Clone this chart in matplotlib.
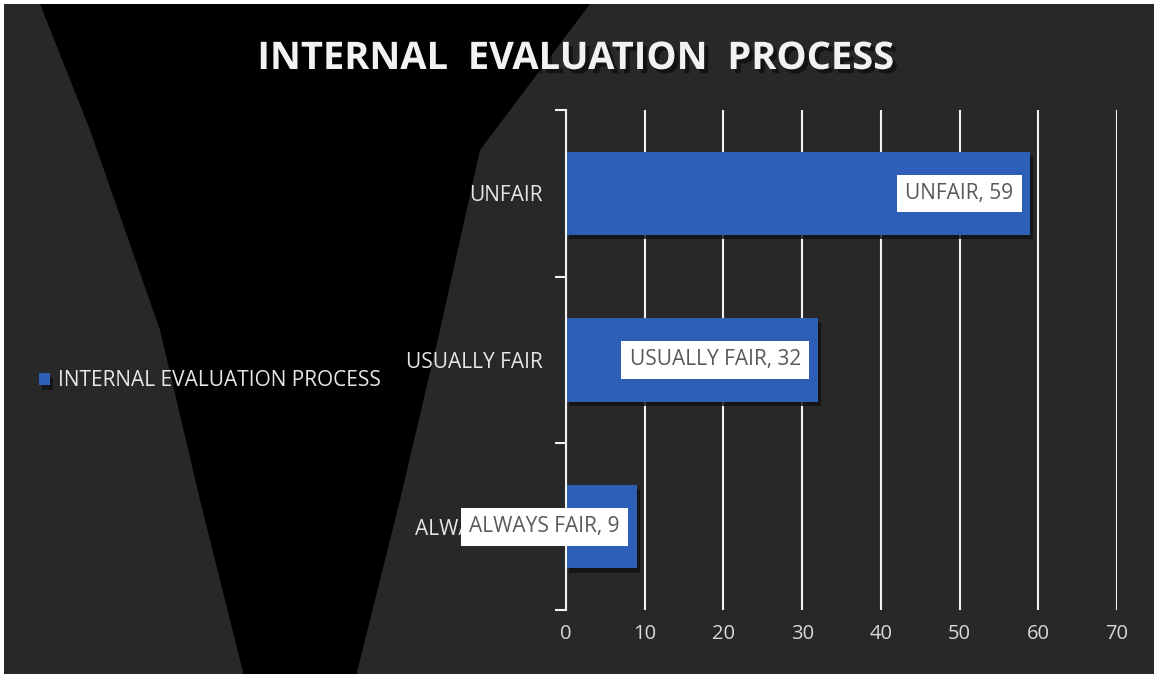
import matplotlib
matplotlib.use("Agg")
import matplotlib.pyplot as plt
import matplotlib.patheffects as pe
from matplotlib.patches import Rectangle, Polygon

plt.rcParams["font.family"] = ["Open Sans", "DejaVu Sans"]

categories = ["ALWAYS FAIR", "USUALLY FAIR", "UNFAIR"]
values = [9, 32, 59]
series_name = "INTERNAL EVALUATION PROCESS"
title = "INTERNAL  EVALUATION  PROCESS"
xticks = [0, 10, 20, 30, 40, 50, 60, 70]

W, H = 1154, 674
fig = plt.figure(figsize=(W / 100, H / 100), dpi=100)
fig.patch.set_facecolor("white")

# dark backdrop with the black "V" shape behind the chart
fig.add_artist(Rectangle((4 / W, -0.02), 1.1, (H - 4) / H + 0.02, transform=fig.transFigure,
                         facecolor="#282828", edgecolor="none", zorder=-10))
vshape = [(40, 4), (90, 130), (160, 330), (200, 500), (245, 680), (355, 680),
          (400, 500), (440, 330), (480, 150), (590, 4)]
fig.add_artist(Polygon([(x / W, 1 - y / H) for x, y in vshape], closed=True,
                       transform=fig.transFigure, facecolor="#000000",
                       edgecolor="none", zorder=-9))

ax = fig.add_axes([566 / W, 64 / H, 551 / W, 500 / H])
ax.patch.set_visible(False)

bar_color = "#2E5FB8"
pos = list(range(len(categories)))
bars = ax.barh(pos, values, height=0.5, color=bar_color, label=series_name,
               zorder=2,
               path_effects=[pe.SimplePatchShadow(offset=(2, -3), shadow_rgbFace="#111111", alpha=0.8),
                             pe.Normal()])

ax.set_xlim(0, 70)
ax.set_ylim(-0.5, 2.5)
ax.set_xticks(xticks)
ax.set_xticklabels([str(t) for t in xticks], color="#d9d9d9", fontsize=14.5)
ax.tick_params(axis="x", length=0, pad=10)
ax.grid(axis="x", color="#f2f2f2", linewidth=1.5, zorder=0)
ax.set_axisbelow(True)

ax.set_yticks([-0.5, 0.5, 1.5, 2.5])
ax.set_yticklabels([])
ax.set_yticks(pos, minor=True)
ax.set_yticklabels(categories, minor=True, color="#e6e6e6", fontsize=15)
ax.tick_params(axis="y", which="major", length=8, width=1.5, color="#f2f2f2", direction="out")
ax.tick_params(axis="y", which="minor", length=0, pad=17)

for s in ["top", "right", "bottom"]:
    ax.spines[s].set_visible(False)
ax.spines["left"].set_color("#f2f2f2")
ax.spines["left"].set_linewidth(1.5)

for c, v, p in zip(categories, values, pos):
    ax.annotate(f"{c}, {v}", xy=(v, p), xytext=(-17, 0), textcoords="offset pixels",
                ha="right", va="center", fontsize=15, color="#595959", zorder=5,
                bbox=dict(boxstyle="square,pad=0.4", facecolor="white", edgecolor="none"))

fig.text(575 / W, 1 - 59 / H, title, ha="center", va="center", fontsize=27.4,
         fontweight="bold", color="#f2f2f2",
         path_effects=[pe.withSimplePatchShadow(offset=(3, -3), shadow_rgbFace="#000000", alpha=0.5)])

fig.legend(handles=[bars], labels=[series_name], loc="center left",
           bbox_to_anchor=(20 / W, 1 - 381 / H), frameon=False, fontsize=15,
           labelcolor="#e6e6e6", handlelength=0.55, handleheight=0.55,
           handletextpad=0.35)

fig.savefig("out.png", dpi=100, facecolor=fig.get_facecolor())
